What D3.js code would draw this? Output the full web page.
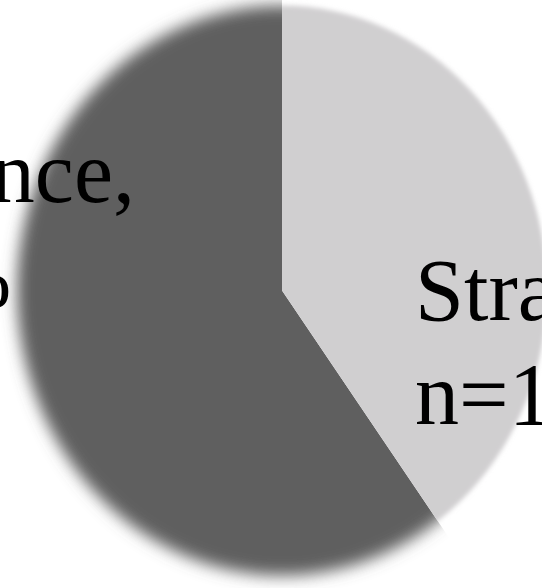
<!DOCTYPE html>
<html>
<head>
<meta charset="utf-8">
<script src="https://cdn.jsdelivr.net/npm/d3@7"></script>
<style>
  html, body { margin: 0; padding: 0; background: #ffffff; }
  svg { display: block; overflow: hidden; }
</style>
</head>
<body>
<div id="canvas"></div>
<script>
// two slices, clockwise from 12 o'clock
var categories = ["Strategy", "Independence"];
var counts = [10, 15];
var shares = [40, 60];

var w = 542,
    h = 588;
var cx = 282, cy = 290.5,
    ry = 285, rx = 265;   // the picture is a little squashed sideways

var colors = d3.scaleOrdinal()
    .domain(categories)
    .range(["#d0cfd0", "#5f5f5f"]);
var blurs = d3.scaleOrdinal()
    .domain(categories)
    .range([2.5, 8]);

var svg = d3.select("#canvas").append("svg")
    .attr("width", w)
    .attr("height", h)
    .style("background-color", "white");

var defs = svg.append("defs");

var pie = d3.pie().sort(null).value(function(d){ return d; });
var arcs = pie(shares);

var arc = d3.arc().innerRadius(0).outerRadius(ry);
var wedge = d3.arc().innerRadius(0).outerRadius(ry * 1.4);

arcs.forEach(function(d, i){
    var f = defs.append("filter")
        .attr("id", "soft" + i)
        .attr("x", "-20%").attr("y", "-20%")
        .attr("width", "140%").attr("height", "140%");
    f.append("feGaussianBlur").attr("stdDeviation", blurs(categories[i]));
    defs.append("clipPath")
        .attr("id", "wedge" + i)
        .append("path")
        .attr("d", wedge(d));
});

var g = svg.append("g")
    .attr("transform", "translate(" + cx + "," + cy + ") scale(" + (rx / ry) + ",1)");

// soft edged ellipse, cut to each slice's wedge so the radii stay sharp
// dark slice first, light one on top
var order = arcs.slice().reverse();
g.selectAll("g.slice")
    .data(order)
    .join("g")
    .attr("class", "slice")
    .attr("clip-path", function(d){ return "url(#wedge" + d.index + ")"; })
    .append("path")
    .attr("d", arc({startAngle: 0, endAngle: 2 * Math.PI}))
    .attr("fill", function(d){ return colors(categories[d.index]); })
    .attr("filter", function(d){ return "url(#soft" + d.index + ")"; });

// labels
var fs = 88, lh = 104;
var labels = svg.append("g")
    .style("font-family", "'Liberation Serif', 'Times New Roman', serif")
    .style("font-size", fs + "px")
    .attr("fill", "black");

function lines(i){
    return [categories[i] + ",", "n=" + counts[i] + ", " + shares[i] + "%"];
}

// right label, left aligned
var t0 = labels.append("text")
    .attr("x", cx + 133)
    .attr("y", cy + 29.5);
t0.selectAll("tspan").data(lines(0)).join("tspan")
    .attr("x", cx + 133)
    .attr("dy", function(d, i){ return i ? lh : 0; })
    .text(function(d){ return d; });

// left label, left aligned, first line ends just right of the pie centre-left
var t1 = labels.append("text")
    .attr("y", cy - 88.5);
var sp = t1.selectAll("tspan").data(lines(1)).join("tspan")
    .attr("dy", function(d, i){ return i ? lh : 0; })
    .text(function(d){ return d; });
var w1 = sp.nodes()[0].getComputedTextLength();
var lx = cx - 147 - w1;
t1.attr("x", lx);
sp.attr("x", lx);
</script>
</body>
</html>
